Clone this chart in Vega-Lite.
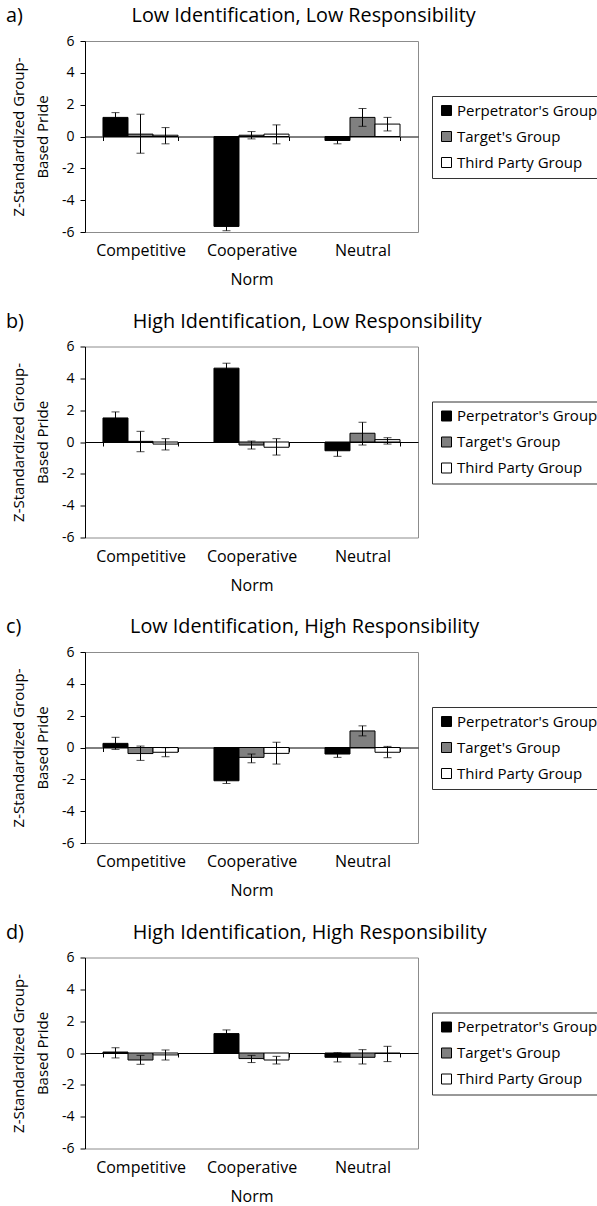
{
  "$schema": "https://vega.github.io/schema/vega-lite/v6.json",
  "padding": {"left": 5, "top": 5, "right": 0, "bottom": 5},
  "config": {
    "font": "Open Sans",
    "view": {"stroke": "#8c8c8c", "strokeWidth": 1},
    "title": {"font": "Open Sans", "fontSize": 19.8, "fontWeight": "normal", "color": "#000", "anchor": "start", "frame": "group", "dx": -79, "offset": 8},
    "axis": {"labelFont": "Open Sans", "titleFont": "Open Sans", "labelColor": "#000", "titleColor": "#000", "titleFontWeight": "normal", "grid": false, "labelFlush": false},
    "axisY": {"values": [-6, -4, -2, 0, 2, 4, 6], "labelOverlap": false, "labelSeparation": 0, "labelExpr": "'' + datum.value", "domainColor": "#000", "tickColor": "#000", "tickSize": 5, "labelFontSize": 14, "labelPadding": 6, "titleFontSize": 15, "titleLineHeight": 24, "titlePadding": 11},
    "legend": {"labelFont": "Open Sans"}
  },
  "resolve": {"legend": {"color": "independent"}},
  "spacing": 22.5,
  "datasets": {
    "pride": [
      {"panel": "a", "norm": "Competitive", "group": "Perpetrator's Group", "mean": 1.2, "lo": 0.9, "hi": 1.5},
      {"panel": "a", "norm": "Competitive", "group": "Target's Group", "mean": 0.15, "lo": -1.05, "hi": 1.4},
      {"panel": "a", "norm": "Competitive", "group": "Third Party Group", "mean": 0.08, "lo": -0.46, "hi": 0.56},
      {"panel": "a", "norm": "Cooperative", "group": "Perpetrator's Group", "mean": -5.65, "lo": -5.92, "hi": -5.4},
      {"panel": "a", "norm": "Cooperative", "group": "Target's Group", "mean": 0.08, "lo": -0.15, "hi": 0.31},
      {"panel": "a", "norm": "Cooperative", "group": "Third Party Group", "mean": 0.15, "lo": -0.46, "hi": 0.73},
      {"panel": "a", "norm": "Neutral", "group": "Perpetrator's Group", "mean": -0.25, "lo": -0.46, "hi": -0.04},
      {"panel": "a", "norm": "Neutral", "group": "Target's Group", "mean": 1.2, "lo": 0.64, "hi": 1.76},
      {"panel": "a", "norm": "Neutral", "group": "Third Party Group", "mean": 0.78, "lo": 0.35, "hi": 1.2},
      {"panel": "b", "norm": "Competitive", "group": "Perpetrator's Group", "mean": 1.51, "lo": 1.13, "hi": 1.89},
      {"panel": "b", "norm": "Competitive", "group": "Target's Group", "mean": 0.04, "lo": -0.61, "hi": 0.67},
      {"panel": "b", "norm": "Competitive", "group": "Third Party Group", "mean": -0.13, "lo": -0.5, "hi": 0.21},
      {"panel": "b", "norm": "Cooperative", "group": "Perpetrator's Group", "mean": 4.64, "lo": 4.33, "hi": 4.95},
      {"panel": "b", "norm": "Cooperative", "group": "Target's Group", "mean": -0.19, "lo": -0.44, "hi": 0.06},
      {"panel": "b", "norm": "Cooperative", "group": "Third Party Group", "mean": -0.33, "lo": -0.82, "hi": 0.21},
      {"panel": "b", "norm": "Neutral", "group": "Perpetrator's Group", "mean": -0.55, "lo": -0.9, "hi": -0.2},
      {"panel": "b", "norm": "Neutral", "group": "Target's Group", "mean": 0.55, "lo": -0.19, "hi": 1.24},
      {"panel": "b", "norm": "Neutral", "group": "Third Party Group", "mean": 0.15, "lo": -0.13, "hi": 0.27},
      {"panel": "c", "norm": "Competitive", "group": "Perpetrator's Group", "mean": 0.26, "lo": -0.12, "hi": 0.64},
      {"panel": "c", "norm": "Competitive", "group": "Target's Group", "mean": -0.38, "lo": -0.81, "hi": 0.09},
      {"panel": "c", "norm": "Competitive", "group": "Third Party Group", "mean": -0.3, "lo": -0.58, "hi": -0.01},
      {"panel": "c", "norm": "Cooperative", "group": "Perpetrator's Group", "mean": -2.09, "lo": -2.26, "hi": -1.92},
      {"panel": "c", "norm": "Cooperative", "group": "Target's Group", "mean": -0.62, "lo": -0.96, "hi": -0.41},
      {"panel": "c", "norm": "Cooperative", "group": "Third Party Group", "mean": -0.37, "lo": -1.04, "hi": 0.33},
      {"panel": "c", "norm": "Neutral", "group": "Perpetrator's Group", "mean": -0.41, "lo": -0.62, "hi": -0.2},
      {"panel": "c", "norm": "Neutral", "group": "Target's Group", "mean": 1.04, "lo": 0.73, "hi": 1.36},
      {"panel": "c", "norm": "Neutral", "group": "Third Party Group", "mean": -0.3, "lo": -0.64, "hi": 0.07},
      {"panel": "d", "norm": "Competitive", "group": "Perpetrator's Group", "mean": 0.06, "lo": -0.31, "hi": 0.33},
      {"panel": "d", "norm": "Competitive", "group": "Target's Group", "mean": -0.44, "lo": -0.71, "hi": -0.15},
      {"panel": "d", "norm": "Competitive", "group": "Third Party Group", "mean": -0.12, "lo": -0.44, "hi": 0.19},
      {"panel": "d", "norm": "Cooperative", "group": "Perpetrator's Group", "mean": 1.22, "lo": 0.99, "hi": 1.45},
      {"panel": "d", "norm": "Cooperative", "group": "Target's Group", "mean": -0.35, "lo": -0.6, "hi": -0.15},
      {"panel": "d", "norm": "Cooperative", "group": "Third Party Group", "mean": -0.44, "lo": -0.69, "hi": -0.21},
      {"panel": "d", "norm": "Neutral", "group": "Perpetrator's Group", "mean": -0.27, "lo": -0.56, "hi": 0.02},
      {"panel": "d", "norm": "Neutral", "group": "Target's Group", "mean": -0.27, "lo": -0.69, "hi": 0.21},
      {"panel": "d", "norm": "Neutral", "group": "Third Party Group", "mean": -0.03, "lo": -0.54, "hi": 0.42}
    ]
  },
  "data": {"name": "pride"},
  "vconcat": [
    {
      "width": 333, "height": 191,
      "title": {"text": "a)\u2003\u2003\u2003\u2003\u2003\u2002Low Identification, Low Responsibility"},
      "transform": [{"filter": "datum.panel == 'a'"}],
      "encoding": {
        "x": {"field": "norm", "type": "nominal", "sort": ["Competitive", "Cooperative", "Neutral"],
          "scale": {"paddingInner": 0.324, "paddingOuter": 0.162},
          "axis": {"orient": "bottom", "offset": -95.5, "domainColor": "#000", "domainWidth": 1, "tickColor": "#000", "tickSize": 4, "tickBand": "extent", "labelAngle": 0, "labelFontSize": 16, "labelPadding": 102, "title": "Norm", "titleFontSize": 16, "titlePadding": 13}},
        "xOffset": {"field": "group", "type": "nominal", "sort": ["Perpetrator's Group", "Target's Group", "Third Party Group"], "scale": {"paddingInner": 0, "paddingOuter": 0}}
      },
      "layer": [
        {"mark": {"type": "bar", "stroke": "#000", "strokeWidth": 1},
         "encoding": {
           "y": {"field": "mean", "type": "quantitative", "scale": {"domain": [-6, 6], "nice": false}, "title": ["Z-Standardized Group-", "Based Pride"]},
           "color": {"field": "group", "type": "nominal", "scale": {"domain": ["Perpetrator's Group", "Target's Group", "Third Party Group"], "range": ["#000000", "#808080", "#ffffff"]},
             "legend": {"title": null, "orient": "none", "legendX": 347, "legendY": 55, "symbolType": "square", "symbolSize": 100, "symbolStrokeColor": "#000", "symbolStrokeWidth": 1, "labelFontSize": 15, "labelColor": "#000", "labelOffset": 3, "rowPadding": 10, "padding": 7, "strokeColor": "#333", "fillColor": "#fff", "labelLimit": 300}}
         }},
        {"mark": {"type": "rule", "color": "#000", "strokeWidth": 1},
         "encoding": {"y": {"field": "lo", "type": "quantitative", "title": ["Z-Standardized Group-", "Based Pride"]}, "y2": {"field": "hi"}}},
        {"mark": {"type": "tick", "color": "#000", "size": 8, "thickness": 1},
         "encoding": {"y": {"field": "lo", "type": "quantitative", "title": ["Z-Standardized Group-", "Based Pride"]}}},
        {"mark": {"type": "tick", "color": "#000", "size": 8, "thickness": 1},
         "encoding": {"y": {"field": "hi", "type": "quantitative", "title": ["Z-Standardized Group-", "Based Pride"]}}}
      ]
    },
    {
      "width": 333, "height": 191,
      "title": {"text": "b)\u2003\u2003\u2003\u2003\u2003\u2002High Identification, Low Responsibility"},
      "transform": [{"filter": "datum.panel == 'b'"}],
      "encoding": {
        "x": {"field": "norm", "type": "nominal", "sort": ["Competitive", "Cooperative", "Neutral"],
          "scale": {"paddingInner": 0.324, "paddingOuter": 0.162},
          "axis": {"orient": "bottom", "offset": -95.5, "domainColor": "#000", "domainWidth": 1, "tickColor": "#000", "tickSize": 4, "tickBand": "extent", "labelAngle": 0, "labelFontSize": 16, "labelPadding": 102, "title": "Norm", "titleFontSize": 16, "titlePadding": 13}},
        "xOffset": {"field": "group", "type": "nominal", "sort": ["Perpetrator's Group", "Target's Group", "Third Party Group"], "scale": {"paddingInner": 0, "paddingOuter": 0}}
      },
      "layer": [
        {"mark": {"type": "bar", "stroke": "#000", "strokeWidth": 1},
         "encoding": {
           "y": {"field": "mean", "type": "quantitative", "scale": {"domain": [-6, 6], "nice": false}, "title": ["Z-Standardized Group-", "Based Pride"]},
           "color": {"field": "group", "type": "nominal", "scale": {"domain": ["Perpetrator's Group", "Target's Group", "Third Party Group"], "range": ["#000000", "#808080", "#ffffff"]},
             "legend": {"title": null, "orient": "none", "legendX": 347, "legendY": 55, "symbolType": "square", "symbolSize": 100, "symbolStrokeColor": "#000", "symbolStrokeWidth": 1, "labelFontSize": 15, "labelColor": "#000", "labelOffset": 3, "rowPadding": 10, "padding": 7, "strokeColor": "#333", "fillColor": "#fff", "labelLimit": 300}}
         }},
        {"mark": {"type": "rule", "color": "#000", "strokeWidth": 1},
         "encoding": {"y": {"field": "lo", "type": "quantitative", "title": ["Z-Standardized Group-", "Based Pride"]}, "y2": {"field": "hi"}}},
        {"mark": {"type": "tick", "color": "#000", "size": 8, "thickness": 1},
         "encoding": {"y": {"field": "lo", "type": "quantitative", "title": ["Z-Standardized Group-", "Based Pride"]}}},
        {"mark": {"type": "tick", "color": "#000", "size": 8, "thickness": 1},
         "encoding": {"y": {"field": "hi", "type": "quantitative", "title": ["Z-Standardized Group-", "Based Pride"]}}}
      ]
    },
    {
      "width": 333, "height": 191,
      "title": {"text": "c)\u2003\u2003\u2003\u2003\u2003\u2002Low Identification, High Responsibility"},
      "transform": [{"filter": "datum.panel == 'c'"}],
      "encoding": {
        "x": {"field": "norm", "type": "nominal", "sort": ["Competitive", "Cooperative", "Neutral"],
          "scale": {"paddingInner": 0.324, "paddingOuter": 0.162},
          "axis": {"orient": "bottom", "offset": -95.5, "domainColor": "#000", "domainWidth": 1, "tickColor": "#000", "tickSize": 4, "tickBand": "extent", "labelAngle": 0, "labelFontSize": 16, "labelPadding": 102, "title": "Norm", "titleFontSize": 16, "titlePadding": 13}},
        "xOffset": {"field": "group", "type": "nominal", "sort": ["Perpetrator's Group", "Target's Group", "Third Party Group"], "scale": {"paddingInner": 0, "paddingOuter": 0}}
      },
      "layer": [
        {"mark": {"type": "bar", "stroke": "#000", "strokeWidth": 1},
         "encoding": {
           "y": {"field": "mean", "type": "quantitative", "scale": {"domain": [-6, 6], "nice": false}, "title": ["Z-Standardized Group-", "Based Pride"]},
           "color": {"field": "group", "type": "nominal", "scale": {"domain": ["Perpetrator's Group", "Target's Group", "Third Party Group"], "range": ["#000000", "#808080", "#ffffff"]},
             "legend": {"title": null, "orient": "none", "legendX": 347, "legendY": 55, "symbolType": "square", "symbolSize": 100, "symbolStrokeColor": "#000", "symbolStrokeWidth": 1, "labelFontSize": 15, "labelColor": "#000", "labelOffset": 3, "rowPadding": 10, "padding": 7, "strokeColor": "#333", "fillColor": "#fff", "labelLimit": 300}}
         }},
        {"mark": {"type": "rule", "color": "#000", "strokeWidth": 1},
         "encoding": {"y": {"field": "lo", "type": "quantitative", "title": ["Z-Standardized Group-", "Based Pride"]}, "y2": {"field": "hi"}}},
        {"mark": {"type": "tick", "color": "#000", "size": 8, "thickness": 1},
         "encoding": {"y": {"field": "lo", "type": "quantitative", "title": ["Z-Standardized Group-", "Based Pride"]}}},
        {"mark": {"type": "tick", "color": "#000", "size": 8, "thickness": 1},
         "encoding": {"y": {"field": "hi", "type": "quantitative", "title": ["Z-Standardized Group-", "Based Pride"]}}}
      ]
    },
    {
      "width": 333, "height": 191,
      "title": {"text": "d)\u2003\u2003\u2003\u2003\u2003\u2002High Identification, High Responsibility"},
      "transform": [{"filter": "datum.panel == 'd'"}],
      "encoding": {
        "x": {"field": "norm", "type": "nominal", "sort": ["Competitive", "Cooperative", "Neutral"],
          "scale": {"paddingInner": 0.324, "paddingOuter": 0.162},
          "axis": {"orient": "bottom", "offset": -95.5, "domainColor": "#000", "domainWidth": 1, "tickColor": "#000", "tickSize": 4, "tickBand": "extent", "labelAngle": 0, "labelFontSize": 16, "labelPadding": 102, "title": "Norm", "titleFontSize": 16, "titlePadding": 13}},
        "xOffset": {"field": "group", "type": "nominal", "sort": ["Perpetrator's Group", "Target's Group", "Third Party Group"], "scale": {"paddingInner": 0, "paddingOuter": 0}}
      },
      "layer": [
        {"mark": {"type": "bar", "stroke": "#000", "strokeWidth": 1},
         "encoding": {
           "y": {"field": "mean", "type": "quantitative", "scale": {"domain": [-6, 6], "nice": false}, "title": ["Z-Standardized Group-", "Based Pride"]},
           "color": {"field": "group", "type": "nominal", "scale": {"domain": ["Perpetrator's Group", "Target's Group", "Third Party Group"], "range": ["#000000", "#808080", "#ffffff"]},
             "legend": {"title": null, "orient": "none", "legendX": 347, "legendY": 55, "symbolType": "square", "symbolSize": 100, "symbolStrokeColor": "#000", "symbolStrokeWidth": 1, "labelFontSize": 15, "labelColor": "#000", "labelOffset": 3, "rowPadding": 10, "padding": 7, "strokeColor": "#333", "fillColor": "#fff", "labelLimit": 300}}
         }},
        {"mark": {"type": "rule", "color": "#000", "strokeWidth": 1},
         "encoding": {"y": {"field": "lo", "type": "quantitative", "title": ["Z-Standardized Group-", "Based Pride"]}, "y2": {"field": "hi"}}},
        {"mark": {"type": "tick", "color": "#000", "size": 8, "thickness": 1},
         "encoding": {"y": {"field": "lo", "type": "quantitative", "title": ["Z-Standardized Group-", "Based Pride"]}}},
        {"mark": {"type": "tick", "color": "#000", "size": 8, "thickness": 1},
         "encoding": {"y": {"field": "hi", "type": "quantitative", "title": ["Z-Standardized Group-", "Based Pride"]}}}
      ]
    }
  ]
}
